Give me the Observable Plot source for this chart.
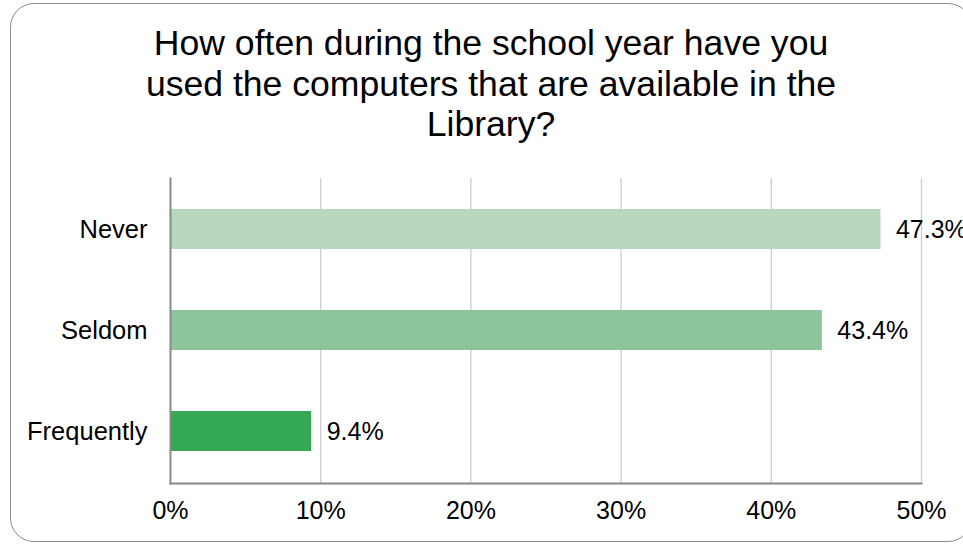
<!DOCTYPE html>
<html>
<head>
<meta charset="utf-8">
<script src="https://cdn.jsdelivr.net/npm/d3@7"></script>
<script src="https://cdn.jsdelivr.net/npm/@observablehq/plot@0.6"></script>
<style>
  html, body { margin: 0; padding: 0; background: #fff; overflow: hidden; }
  #wrap { position: relative; width: 963px; height: 547px; overflow: hidden; font-family: "Liberation Sans", Arial, sans-serif; }
  #frame { position: absolute; left: 9.5px; top: 3px; width: 962px; height: 539px; border: 1.5px solid #8c8c8c; border-radius: 24px; box-sizing: border-box; }
  #title { position: absolute; left: 0; width: 982px; top: 23px; text-align: center; font-size: 35.6px; line-height: 40.6px; color: #000; }
  #chart { position: absolute; left: 0; top: 0; }
  #chart svg { overflow: visible; }
</style>
</head>
<body>
<div id="wrap">
  <div id="frame"></div>
  <div id="title">How often during the school year have you<br>used the computers that are available in the<br>Library?</div>
  <div id="chart"></div>
</div>
<script>
const categories = ["Never", "Seldom", "Frequently"];
const values = [47.3, 43.4, 9.4];
const valueLabels = ["47.3%", "43.4%", "9.4%"];
const colors = ["#b8d7bf", "#8ec49a", "#34a853"];
const ticks = [0, 10, 20, 30, 40, 50];
const tickLabels = ["0%", "10%", "20%", "30%", "40%", "50%"];

const data = categories.map((c, i) => ({category: c, value: values[i], label: valueLabels[i], color: colors[i]}));

const chart = Plot.plot({
  width: 963,
  height: 547,
  marginLeft: 170,
  marginRight: 42,
  marginTop: 178,
  marginBottom: 64,
  style: {fontFamily: "'Liberation Sans', Arial, sans-serif", fontSize: "25px", color: "#000", background: "transparent", overflow: "visible"},
  x: {domain: [0, 50], ticks: ticks, tickFormat: d => tickLabels[ticks.indexOf(d)]},
  y: {domain: categories, padding: 0.6, paddingOuter: 0.3},
  marks: [
    Plot.ruleX(ticks.filter(t => t > 0), {stroke: "#cccccc", strokeWidth: 1.3}),
    Plot.barX(data, {y: "category", x: "value", fill: "color"}),
    Plot.text(data, {y: "category", x: "value", text: "label", dx: 15, textAnchor: "start", fontSize: 25, fill: "#000"}),
    Plot.frame({anchor: "left", stroke: "#898989", strokeWidth: 2}),
    Plot.frame({anchor: "bottom", stroke: "#898989", strokeWidth: 2}),
    Plot.axisX({ticks: ticks, tickSize: 0, tickPadding: 18, fontSize: 25, tickFormat: d => tickLabels[ticks.indexOf(d)], label: null}),
    Plot.axisY({tickSize: 0, tickPadding: 23, fontSize: 25.5, label: null})
  ]
});
document.getElementById("chart").appendChild(chart);
</script>
</body>
</html>
